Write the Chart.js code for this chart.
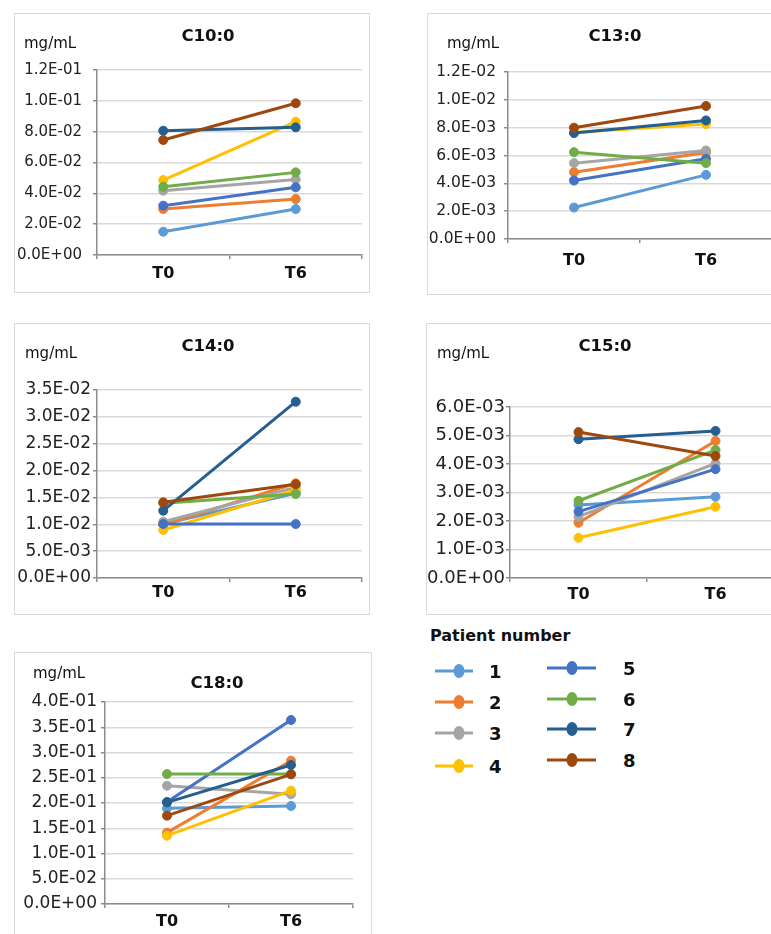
<!DOCTYPE html>
<html>
<head>
<meta charset="utf-8">
<script src="https://cdn.jsdelivr.net/npm/chart.js@4.4.1/dist/chart.umd.min.js"></script>
<style>
  body { margin: 0; background: #fff; }
  #page { position: relative; width: 771px; height: 934px; overflow: hidden; background: #fff;
          font-family: "DejaVu Sans", "Liberation Sans", sans-serif; color: #1a1a1a; }
  .box { position: absolute; border: 1.5px solid #d9d9d9; box-sizing: border-box; }
  canvas { position: absolute; }
  .ttl { position: absolute; font-weight: bold; font-size: 16.5px; transform: translate(-50%, -50%); white-space: nowrap; color: #111; }
  .unit { position: absolute; font-size: 15px; transform: translateY(-50%); white-space: nowrap; color: #111; }
  .legtitle { position: absolute; font-weight: bold; font-size: 16px; transform: translateY(-50%); white-space: nowrap; color: #111; }
  .lline { position: absolute; height: 3px; transform: translateY(-50%); }
  .lmark { position: absolute; width: 11px; height: 14px; border-radius: 50%; transform: translate(-50%, -50%); }
  .llab { position: absolute; font-weight: bold; font-size: 18px; transform: translateY(-50%); color: #111; }
</style>
</head>
<body>
<div id="page"></div>
<script>
// ---------- data ----------
const CATEGORIES = ['T0', 'T6'];
const PATIENTS = ['1', '2', '3', '4', '5', '6', '7', '8'];
const COLORS = ['#5B9BD5', '#ED7D31', '#A5A5A5', '#FFC000', '#4472C4', '#70AD47', '#255E91', '#9E480E'];
const UNIT = 'mg/mL';
const LEGEND_TITLE = 'Patient number';

const C10_T0 = [0.0151, 0.0298, 0.0417, 0.0486, 0.0320, 0.0443, 0.0806, 0.0746];
const C10_T6 = [0.0298, 0.0363, 0.0490, 0.0865, 0.0439, 0.0536, 0.0828, 0.0984];
const C10_TICKS = ['0.0E+00', '2.0E-02', '4.0E-02', '6.0E-02', '8.0E-02', '1.0E-01', '1.2E-01'];

const C13_T0 = [0.00226, 0.00480, 0.00545, 0.00766, 0.00420, 0.00624, 0.00761, 0.00800];
const C13_T6 = [0.00461, 0.00622, 0.00636, 0.00826, 0.00576, 0.00545, 0.00852, 0.00956];
const C13_TICKS = ['0.0E+00', '2.0E-03', '4.0E-03', '6.0E-03', '8.0E-03', '1.0E-02', '1.2E-02'];

const C14_T0 = [0.01005, 0.00987, 0.01048, 0.00894, 0.01005, 0.01390, 0.01253, 0.01409];
const C14_T6 = [0.01577, 0.01763, 0.01688, 0.01638, 0.01005, 0.01564, 0.03282, 0.01744];
const C14_TICKS = ['0.0E+00', '5.0E-03', '1.0E-02', '1.5E-02', '2.0E-02', '2.5E-02', '3.0E-02', '3.5E-02'];

const C15_T0 = [0.00256, 0.00194, 0.00215, 0.00141, 0.00233, 0.00271, 0.00487, 0.00512];
const C15_T6 = [0.00285, 0.00481, 0.00402, 0.00250, 0.00382, 0.00449, 0.00516, 0.00428];
const C15_TICKS = ['0.0E+00', '1.0E-03', '2.0E-03', '3.0E-03', '4.0E-03', '5.0E-03', '6.0E-03'];

const C18_T0 = [0.1895, 0.1413, 0.2343, 0.1353, 0.2020, 0.2574, 0.2013, 0.1749];
const C18_T6 = [0.1941, 0.2838, 0.2172, 0.2244, 0.3644, 0.2574, 0.2752, 0.2568];
const C18_TICKS = ['0.0E+00', '5.0E-02', '1.0E-01', '1.5E-01', '2.0E-01', '2.5E-01', '3.0E-01', '3.5E-01', '4.0E-01'];

// ---------- panels (layout) ----------
const PANELS = [
  { title: 'C10:0', t0: C10_T0, t6: C10_T6, ticks: C10_TICKS, step: 0.02, max: 0.12,
    box: { l: 14, t: 13, r: 370, b: 293 }, plot: { l: 97, t: 70, r: 362, b: 255 },
    titleXY: [208, 35], unitXY: [24, 43], yFont: 15, yPad: 11, xPad: 5 },
  { title: 'C13:0', t0: C13_T0, t6: C13_T6, ticks: C13_TICKS, step: 0.002, max: 0.012,
    box: { l: 427, t: 13, r: 800, b: 295 }, plot: { l: 508, t: 72, r: 772, b: 239 },
    titleXY: [615, 35], unitXY: [447, 43], yFont: 15.5, yPad: 8, xPad: 8 },
  { title: 'C14:0', t0: C14_T0, t6: C14_T6, ticks: C14_TICKS, step: 0.005, max: 0.035,
    box: { l: 14, t: 323, r: 370, b: 615 }, plot: { l: 97, t: 390, r: 362, b: 578 },
    titleXY: [208, 345], unitXY: [25, 353], yFont: 17, yPad: 2, xPad: 1 },
  { title: 'C15:0', t0: C15_T0, t6: C15_T6, ticks: C15_TICKS, step: 0.001, max: 0.006,
    box: { l: 426, t: 323, r: 800, b: 615 }, plot: { l: 510, t: 407, r: 784, b: 578 },
    titleXY: [605, 345], unitXY: [437, 353], yFont: 18, yPad: 1, xPad: 3 },
  { title: 'C18:0', t0: C18_T0, t6: C18_T6, ticks: C18_TICKS, step: 0.05, max: 0.4,
    box: { l: 14, t: 652, r: 372, b: 960 }, plot: { l: 105, t: 702, r: 353, b: 904 },
    titleXY: [217, 682], unitXY: [33, 673], yFont: 17, yPad: 4, xPad: 4 }
];

const page = document.getElementById('page');

function el(cls, text, x, y, extra) {
  const d = document.createElement('div');
  d.className = cls;
  if (text !== null) d.textContent = text;
  d.style.left = x + 'px';
  d.style.top = y + 'px';
  if (extra) Object.assign(d.style, extra);
  page.appendChild(d);
  return d;
}

PANELS.forEach(p => {
  const w = p.box.r - p.box.l, h = p.box.b - p.box.t;
  el('box', null, p.box.l, p.box.t, { width: w + 'px', height: h + 'px' });
  const c = document.createElement('canvas');
  c.width = w; c.height = h;
  c.style.left = p.box.l + 'px'; c.style.top = p.box.t + 'px';
  c.style.width = w + 'px'; c.style.height = h + 'px';
  page.appendChild(c);
  el('ttl', p.title, p.titleXY[0], p.titleXY[1]);
  el('unit', UNIT, p.unitXY[0], p.unitXY[1]);

  new Chart(c, {
    type: 'line',
    data: {
      labels: CATEGORIES,
      datasets: PATIENTS.map((name, i) => ({
        label: name,
        data: [p.t0[i], p.t6[i]],
        borderColor: COLORS[i],
        backgroundColor: COLORS[i],
        pointBackgroundColor: COLORS[i],
        pointBorderColor: COLORS[i],
        borderWidth: 3,
        pointRadius: 4.5,
        pointHoverRadius: 4.5,
        pointBorderWidth: 1,
        tension: 0,
        order: PATIENTS.length - i
      }))
    },
    options: {
      responsive: false,
      animation: false,
      devicePixelRatio: 1,
      events: [],
      layout: { padding: { top: p.plot.t - p.box.t, right: p.box.r - p.plot.r, left: 0, bottom: 0 } },
      plugins: { legend: { display: false }, tooltip: { enabled: false }, title: { display: false } },
      scales: {
        x: {
          type: 'category',
          offset: true,
          grid: { display: true, drawOnChartArea: false, drawTicks: true, tickLength: 4, offset: true,
                  color: '#8c8c8c', lineWidth: 1.5 },
          border: { display: true, color: '#8c8c8c', width: 1.5 },
          ticks: { font: { family: 'DejaVu Sans', size: 16, weight: 'bold' }, color: '#111', padding: p.xPad, maxRotation: 0 },
          afterFit: s => { s.height = p.box.b - p.plot.b; }
        },
        y: {
          min: 0, max: p.max,
          ticks: { stepSize: p.step, callback: v => p.ticks[Math.round(v / p.step)],
                   font: { family: 'DejaVu Sans', size: p.yFont }, color: '#222', padding: p.yPad },
          grid: { color: '#d9d9d9', lineWidth: 1.5, tickColor: '#8c8c8c', tickLength: 4 },
          border: { display: true, color: '#8c8c8c', width: 1.5 },
          afterFit: s => { s.width = p.plot.l - p.box.l; }
        }
      }
    }
  });
});

// ---------- legend ----------
el('legtitle', LEGEND_TITLE, 430, 635);
const LEG_COLS = [
  { lineX: 435, lineW: 38, markX: 459, labX: 489, ys: [671, 702, 733, 766] },
  { lineX: 547, lineW: 49, markX: 572, labX: 623, ys: [668, 699, 729, 760] }
];
PATIENTS.forEach((name, i) => {
  const col = LEG_COLS[Math.floor(i / 4)];
  const y = col.ys[i % 4];
  el('lline', null, col.lineX, y, { width: col.lineW + 'px', background: COLORS[i] });
  el('lmark', null, col.markX, y, { background: COLORS[i] });
  el('llab', name, col.labX, y);
});
</script>
</body>
</html>
